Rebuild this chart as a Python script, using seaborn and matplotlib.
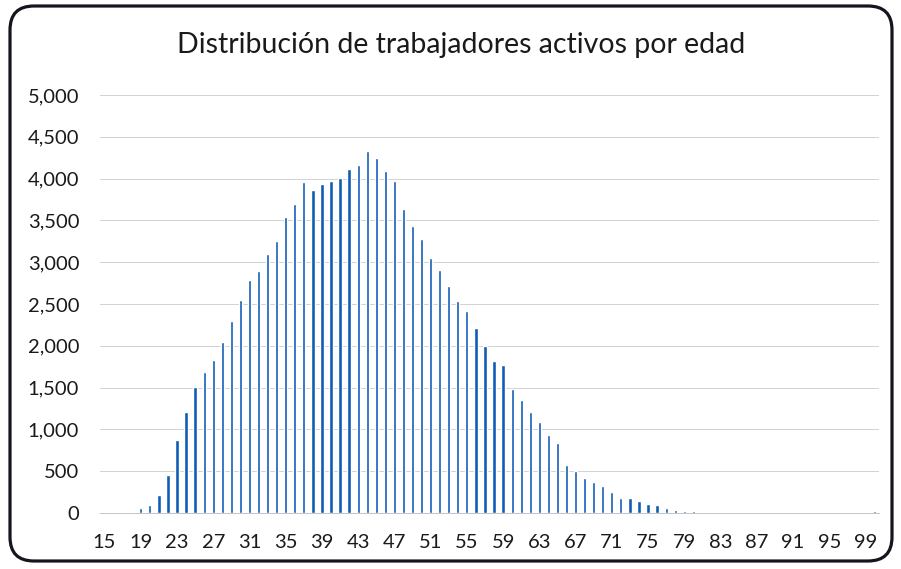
import matplotlib
matplotlib.use("Agg")
import matplotlib.pyplot as plt
import seaborn as sns
import pandas as pd
from matplotlib.patches import FancyBboxPatch
from matplotlib.ticker import FuncFormatter

ages = list(range(15, 101))
workers = [
    0, 0, 0, 0,                                  # 15-18
    60, 100, 212, 452, 872, 1208, 1508, 1688,    # 19-26
    1828, 2044, 2292, 2548, 2792, 2896, 3100,    # 27-33
    3256, 3536, 3700, 3956, 3868, 3932, 3968,    # 34-40
    4006, 4114, 4160, 4330, 4244, 4092, 3972,    # 41-47
    3640, 3432, 3272, 3052, 2904, 2712, 2540,    # 48-54
    2412, 2208, 2000, 1820, 1768, 1484, 1352,    # 55-61
    1208, 1092, 936, 832, 578, 504, 420,         # 62-68
    372, 328, 252, 180, 176, 146, 102,           # 69-75
    96, 64, 40, 30, 30, 18, 8,                   # 76-82
    6, 5, 4, 3, 2, 2, 1,                         # 83-89
    1, 1, 0, 0, 0, 0, 0, 0, 0, 0,                # 90-99
    20,                                          # 100
]
title = "Distribución de trabajadores activos por edad"
yticks = [0, 500, 1000, 1500, 2000, 2500, 3000, 3500, 4000, 4500, 5000]

df = pd.DataFrame({"edad": ages, "trabajadores": workers})

sns.set_theme(style="white")
plt.rcParams["font.family"] = ["Lato", "DejaVu Sans"]

fig = plt.figure(figsize=(9.01, 5.69), dpi=100)
ax = fig.add_axes([0.111, 0.0984, 0.8646, 0.7346])

sns.barplot(data=df, x="edad", y="trabajadores", color="#0f5cb5",
            width=0.36, saturation=1, ax=ax)

ax.set_ylim(0, 5000)
ax.set_yticks(yticks)
ax.yaxis.set_major_formatter(FuncFormatter(lambda v, p: f"{int(v):,}"))
ax.grid(axis="y", color="#d2d2d2", linewidth=0.7)
ax.set_axisbelow(True)
for s in ["top", "right", "left"]:
    ax.spines[s].set_visible(False)
ax.spines["bottom"].set_color("#c4c4c4")
ax.spines["bottom"].set_linewidth(0.7)

pos = [i for i, a in enumerate(ages) if (a - 15) % 4 == 0]
ax.set_xticks(pos)
ax.set_xticklabels([str(ages[i]) for i in pos])
ax.set_xlim(-0.5, len(ages) - 0.5)
ax.tick_params(axis="both", length=0, labelsize=14.5, colors="#1a1a1a")
ax.tick_params(axis="y", pad=15)
ax.tick_params(axis="x", pad=15)
ax.set_xlabel("")
ax.set_ylabel("")

fig.text(0.512, 0.921, title, ha="center", va="center", fontsize=20.5, color="#1a1a1a")

border = FancyBboxPatch((10, 8), 882, 555, boxstyle="round,pad=0,rounding_size=24",
                        transform=None, fill=False, edgecolor="#15151f", linewidth=2.3)
fig.patches.append(border)

fig.savefig("out.png", dpi=100)
